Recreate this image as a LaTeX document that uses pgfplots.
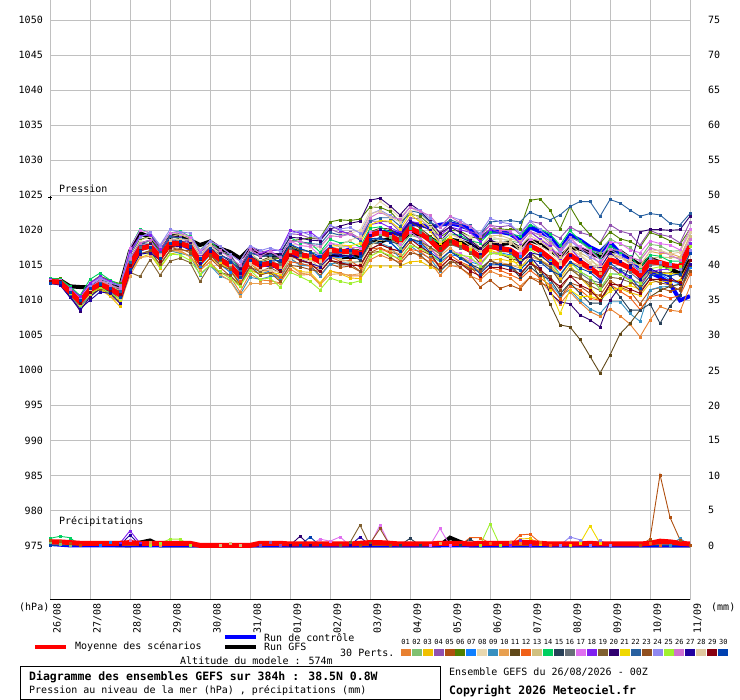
\documentclass[border=0pt]{standalone}
\usepackage{fontspec}
\setmainfont{DejaVu Sans Mono}
\usepackage{pgfplots}
\usepackage{pgfplotstable}
\pgfplotsset{compat=1.18}
\definecolor{gridc}{HTML}{C0C0C0}
\definecolor{c01}{HTML}{E88030}\definecolor{c02}{HTML}{80C070}\definecolor{c03}{HTML}{F0C000}
\definecolor{c04}{HTML}{9050B0}\definecolor{c05}{HTML}{B05010}\definecolor{c06}{HTML}{508000}
\definecolor{c07}{HTML}{1080FF}\definecolor{c08}{HTML}{E8D8B0}\definecolor{c09}{HTML}{3890C0}
\definecolor{c10}{HTML}{E8A050}\definecolor{c11}{HTML}{604818}\definecolor{c12}{HTML}{F06018}
\definecolor{c13}{HTML}{D0C080}\definecolor{c14}{HTML}{00D060}\definecolor{c15}{HTML}{284058}
\definecolor{c16}{HTML}{687078}\definecolor{c17}{HTML}{E070F0}\definecolor{c18}{HTML}{8020F0}
\definecolor{c19}{HTML}{806030}\definecolor{c20}{HTML}{300070}\definecolor{c21}{HTML}{F0D800}
\definecolor{c22}{HTML}{2860A0}\definecolor{c23}{HTML}{905020}\definecolor{c24}{HTML}{9088F0}
\definecolor{c25}{HTML}{A0F030}\definecolor{c26}{HTML}{D070D0}\definecolor{c27}{HTML}{2000A0}
\definecolor{c28}{HTML}{E0C8A0}\definecolor{c29}{HTML}{880010}\definecolor{c30}{HTML}{0040B0}
\newcommand\fa{\fontsize{10bp}{12bp}\selectfont}
\newcommand\fs{\fontsize{7bp}{8bp}\selectfont}
\newcommand\ft{\fontsize{11.5bp}{13bp}\selectfont\bfseries}
% mean pressure (m), mean precipitation (pm), control (c) and GFS (g) deviations, member deviations d01..d30 from the mean
\pgfplotstableset{
create on use/m/.style={create col/set list={1012.7,1012.6,1011.2,1009.8,1011.5,1012.3,1011.7,1010.8,1015.0,1017.4,1017.7,1016.2,1018.1,1018.1,1017.7,1015.5,1017.0,1015.8,1015.0,1013.4,1015.8,1015.0,1015.3,1014.7,1017.0,1016.5,1016.3,1015.5,1017.2,1017.0,1017.0,1016.7,1019.3,1019.7,1019.3,1018.4,1020.3,1019.6,1018.6,1017.2,1018.5,1017.9,1017.2,1016.2,1017.7,1017.4,1017.2,1016.2,1017.8,1017.1,1016.0,1014.7,1016.5,1015.5,1014.6,1013.6,1015.8,1015.3,1014.6,1013.6,1015.5,1015.4,1015.0,1014.8,1017.7}},
create on use/pm/.style={create col/set list={0.5,0.5,0.4,0.3,0.3,0.3,0.3,0.3,0.4,0.3,0.3,0.3,0.3,0.3,0.3,0.0,0.0,0.0,0.0,0.0,0.0,0.3,0.3,0.3,0.2,0.2,0.2,0.2,0.2,0.2,0.2,0.3,0.4,0.4,0.3,0.2,0.2,0.2,0.2,0.3,0.3,0.3,0.2,0.3,0.3,0.3,0.3,0.4,0.4,0.3,0.2,0.2,0.2,0.2,0.3,0.2,0.2,0.2,0.2,0.2,0.3,0.6,0.5,0.3,0.2}},
create on use/c/.style={create col/set list={0.1,0.2,0.0,-0.2,0.1,0.2,0.0,-0.1,-0.3,0.2,0.0,-0.2,0.3,0.0,-0.3,0.2,0.0,0.3,-0.2,0.0,0.4,0.2,-0.3,0.1,-0.5,-0.3,0.0,0.5,-0.4,-0.2,0.3,0.0,0.3,0.0,0.5,1.0,0.6,1.2,1.8,3.6,2.5,2.8,3.0,2.7,2.1,2.4,2.3,2.4,2.7,2.7,3.1,2.5,2.8,3.1,3.0,3.3,2.5,1.4,0.9,0.9,-1.5,-2.1,-2.6,-4.8,-7.1}},
create on use/g/.style={create col/set list={0.2,0.3,0.8,2.1,0.4,0.2,0.4,1.1,2.0,2.2,1.3,1.2,1.0,1.2,0.9,2.4,1.4,1.6,1.9,2.6,1.6,1.9,1.1,1.7,0.5,0.2,-0.3,0.5,-0.5,-0.8,-0.8,-0.5,-0.9,-1.3,-0.5,0.0,-0.6,-0.2,0.3,0.8,0.2,0.5,0.8,1.0,0.5,0.6,1.0,1.2,0.8,1.0,1.2,1.5,0.9,1.9,2.2,2.6,1.2,1.7,1.4,1.4,0.5,0.0,-0.5,-1.0,-2.0}},
create on use/d01/.style={create col/set list={0.2,0.4,0.3,0.6,0.5,0.1,0.1,-0.4,-0.5,-0.8,-0.6,-1.1,-1.0,-1.0,-1.4,-1.2,-1.5,-1.9,-1.6,-2.2,-2.0,-2.1,-2.5,-2.2,-2.5,-2.9,-2.6,-3.2,-3.0,-3.1,-3.5,-3.2,-3.5,-3.2,-3.4,-2.9,-3.0,-3.4,-3.1,-3.6,-3.5,-3.2,-3.7,-3.3,-3.5,-3.8,-4.0,-4.2,-4.5,-4.2,-4.8,-5.2,-5.3,-5.8,-6.2,-5.9,-7.0,-7.5,-8.0,-8.8,-8.3,-6.3,-6.4,-6.4,-5.7}},
create on use/d02/.style={create col/set list={0.0,0.1,0.0,0.3,0.3,0.6,0.4,0.8,0.8,0.5,0.8,0.4,0.5,0.5,0.1,0.2,0.0,-0.3,-0.1,-0.6,-0.5,-0.1,-0.2,0.5,0.5,0.9,0.6,1.2,1.0,0.6,0.7,0.1,0.0,-0.4,-0.3,-0.9,-1.0,-0.7,-1.0,-0.4,-0.5,0.1,0.2,0.9,1.0,1.4,1.3,2.0,2.0,2.2,2.5,2.2,2.5,2.9,2.6,3.2,3.0,2.7,3.0,2.4,2.5,2.4,2.0,2.3,2.0}},
create on use/d03/.style={create col/set list={-0.2,-0.4,-0.5,-0.9,-0.8,-0.7,-1.1,-1.7,-1.0,-1.3,-1.1,-1.6,-1.5,-1.2,-1.4,-0.9,-1.0,-0.6,-0.9,-0.4,-0.5,-1.0,-1.2,-1.8,-2.0,-2.4,-2.3,-3.0,-3.0,-3.2,-3.8,-3.6,-4.4,-4.8,-4.4,-3.5,-4.8,-4.0,-3.8,-3.0,-3.0,-2.6,-2.5,-1.9,-2.0,-1.5,-1.6,-0.9,-1.0,-1.3,-1.0,-1.6,-1.5,-2.2,-2.8,-3.5,-4.0,-3.6,-3.5,-2.9,-3.0,-2.6,-2.4,-1.9,-2.0}},
create on use/d04/.style={create col/set list={0.3,0.2,0.6,0.5,0.8,1.1,1.2,1.3,2.0,1.7,1.9,1.4,1.5,1.5,1.1,1.3,1.0,1.4,1.1,1.6,1.5,1.9,1.8,2.5,2.5,2.9,2.6,3.2,3.0,2.6,2.7,2.1,2.0,1.6,1.9,1.4,1.5,2.0,1.8,2.5,2.5,2.9,2.6,3.2,3.0,3.1,3.5,3.2,3.5,3.9,3.6,4.2,4.0,4.2,4.7,4.6,5.0,4.6,4.9,4.3,4.5,4.0,4.1,3.4,3.5}},
create on use/d05/.style={create col/set list={-0.1,-0.2,-0.4,-0.3,-0.5,-0.7,-0.6,-1.1,-1.0,-0.7,-0.9,-0.4,-0.5,-0.9,-0.6,-1.1,-1.0,-1.1,-1.5,-1.2,-1.5,-1.2,-1.4,-0.9,-1.0,-1.4,-1.3,-1.9,-2.0,-2.3,-2.1,-2.6,-2.5,-2.2,-2.4,-1.9,-2.0,-2.4,-2.1,-2.6,-2.5,-3.2,-3.5,-4.3,-4.8,-5.7,-5.0,-4.6,-4.5,-4.6,-4.1,-4.4,-4.0,-3.5,-3.6,-2.9,-3.0,-3.4,-3.3,-4.1,-4.0,-3.6,-3.7,-3.1,-3.0}},
create on use/d06/.style={create col/set list={0.4,0.5,0.8,0.7,1.0,1.2,1.1,1.6,1.5,1.3,1.4,0.9,1.0,0.7,0.9,0.4,0.5,0.4,0.1,0.2,0.0,0.5,0.6,1.3,1.5,2.2,2.6,3.4,4.0,4.5,4.4,4.9,4.0,3.6,3.4,2.8,2.0,2.4,2.2,1.8,1.5,2.0,1.9,2.6,2.5,2.8,2.9,4.0,6.5,7.4,6.9,5.5,6.9,5.5,4.8,4.5,4.0,3.5,3.8,4.0,4.2,3.8,3.5,3.2,2.5}},
create on use/d07/.style={create col/set list={0.0,-0.1,-0.3,-0.2,-0.5,-0.3,-0.6,-0.4,-0.5,-0.4,-0.1,-0.2,0.0,-0.3,-0.1,-0.6,-0.5,-0.6,-1.0,-0.7,-1.0,-1.3,-1.1,-1.6,-1.5,-1.2,-1.4,-0.9,-1.0,-0.9,-0.6,-0.8,-0.5,-1.0,-0.9,-1.4,-1.5,-1.6,-2.0,-1.7,-2.0,-1.6,-1.7,-1.1,-1.0,-0.6,-0.7,0.1,0.0,-0.4,-0.3,-1.0,-1.0,-1.4,-1.3,-2.0,-2.0,-1.6,-1.7,-1.1,-1.0,-1.6,-2.1,-2.5,-3.0}},
create on use/d08/.style={create col/set list={0.1,0.2,0.1,0.4,0.3,0.6,0.5,0.9,1.0,1.1,1.4,1.2,1.5,1.3,1.4,0.9,1.0,0.9,0.6,0.8,0.5,0.6,0.9,0.7,1.0,1.4,1.3,2.0,2.0,2.5,2.6,3.3,3.5,4.4,3.8,3.4,3.0,2.8,2.4,2.1,2.0,1.7,1.9,1.4,1.5,1.3,1.4,0.9,1.0,0.7,0.9,0.4,0.5,1.0,0.9,1.4,1.5,1.8,1.6,2.1,2.0,1.6,1.5,1.0,1.0}},
create on use/d09/.style={create col/set list={-0.3,-0.4,-0.7,-0.6,-1.0,-0.7,-0.9,-0.4,-0.5,-0.8,-0.6,-1.1,-1.0,-1.4,-1.3,-1.9,-2.0,-2.3,-2.1,-2.6,-2.5,-2.0,-1.9,-1.2,-1.0,-1.5,-1.4,-2.1,-2.0,-1.6,-1.7,-1.1,-1.0,-1.5,-1.7,-2.4,-2.5,-2.8,-2.6,-3.1,-3.0,-2.6,-2.7,-2.1,-2.0,-2.3,-2.1,-2.6,-2.5,-2.8,-3.5,-4.0,-5.0,-5.5,-5.8,-5.5,-6.0,-5.5,-6.5,-6.6,-4.0,-3.5,-3.0,-2.5,-2.0}},
create on use/d10/.style={create col/set list={0.2,0.1,-0.2,-0.1,-0.5,-0.6,-1.1,-1.2,-1.5,-1.3,-1.4,-0.9,-1.0,-1.1,-1.5,-1.2,-1.5,-2.1,-2.2,-2.8,-3.4,-2.6,-2.9,-2.3,-2.0,-2.6,-2.6,-3.3,-3.5,-3.2,-3.4,-2.9,-3.0,-2.7,-2.1,-1.8,-1.5,-1.2,-1.4,-0.9,-1.0,-1.6,-1.7,-2.3,-2.5,-2.0,-2.1,-1.6,-1.5,-1.4,-1.0,-1.3,-1.0,-0.5,-0.4,0.3,0.5,0.9,0.8,1.4,1.5,1.3,1.7,1.4,1.5}},
create on use/d11/.style={create col/set list={-0.2,-0.1,-0.3,0.1,0.0,0.3,0.1,0.5,0.5,0.2,0.4,-0.1,0.0,-0.1,-0.4,-0.2,-0.5,-0.1,-0.2,0.4,0.5,0.6,0.9,0.7,1.0,0.6,0.7,0.1,0.0,0.3,0.1,0.6,0.5,0.6,0.9,0.7,1.0,0.7,0.6,0.2,0.0,-0.4,-0.3,-0.9,-1.0,-0.8,-1.2,-0.6,-1.5,-4.2,-6.5,-8.2,-10.3,-11.1,-12.6,-14.0,-13.6,-10.1,-7.9,-5.0,-5.0,-4.0,-3.0,-2.5,-2.7}},
create on use/d12/.style={create col/set list={0.1,0.3,0.2,0.5,0.5,0.3,0.4,-0.1,0.0,-0.2,-0.1,-0.6,-0.5,-0.4,-0.1,-0.2,0.0,-0.3,-0.1,-0.6,-0.5,-0.8,-1.0,-1.4,-1.5,-1.2,-1.4,-0.9,-1.0,-1.4,-1.3,-2.0,-2.0,-2.2,-2.6,-2.7,-3.0,-2.6,-2.7,-2.1,-2.0,-2.4,-2.3,-3.0,-3.0,-3.1,-3.5,-3.2,-3.5,-3.9,-3.8,-4.5,-4.5,-4.0,-4.3,-3.6,-3.5,-4.0,-4.2,-4.9,-5.0,-4.6,-4.7,-4.1,-4.0}},
create on use/d13/.style={create col/set list={0.0,0.1,0.0,0.2,0.3,0.5,0.3,0.6,0.5,0.6,0.9,0.7,1.0,1.3,1.1,1.6,1.5,1.2,1.4,0.9,1.0,0.6,0.7,0.1,0.0,-0.4,-0.3,-1.0,-1.0,-1.1,-1.5,-1.2,-1.5,-1.0,-0.9,-0.2,0.0,0.4,0.3,1.0,1.0,1.1,1.5,1.2,1.5,1.9,1.6,2.2,2.0,1.7,1.9,1.4,1.5,1.3,1.4,0.9,1.0,0.9,0.6,0.8,0.5,0.8,1.1,1.3,1.5}},
create on use/d14/.style={create col/set list={0.5,0.4,0.8,0.9,1.5,1.6,1.2,1.4,2.5,2.8,1.9,1.6,1.5,1.8,1.4,1.7,1.5,1.2,1.4,0.9,1.0,1.4,1.3,2.0,2.0,1.7,1.9,1.4,1.5,1.2,1.4,0.9,1.0,0.8,0.4,0.3,0.0,0.4,0.3,1.0,1.0,1.4,1.3,2.0,2.0,2.4,2.3,3.0,3.0,3.1,3.5,3.2,3.5,3.0,2.8,2.3,2.0,1.6,1.7,1.1,1.0,0.9,0.6,0.8,0.5}},
create on use/d15/.style={create col/set list={-0.1,0.1,0.0,0.4,0.5,0.6,0.9,0.7,1.0,0.8,0.9,0.4,0.5,0.6,0.9,0.7,1.0,1.1,1.5,1.2,1.5,1.2,1.1,0.6,0.5,0.4,0.1,0.2,0.0,-0.4,-0.3,-1.0,-1.0,-0.7,-0.9,-0.4,-0.5,-0.8,-1.0,-1.4,-1.5,-1.6,-2.0,-1.7,-2.0,-2.4,-2.3,-2.9,-3.0,-3.5,-3.0,-3.8,-4.0,-4.5,-5.0,-4.0,-3.5,-4.8,-6.0,-5.0,-6.0,-8.7,-5.8,-4.0,-2.5}},
create on use/d16/.style={create col/set list={0.0,0.1,-0.1,-0.2,-0.3,-0.1,-0.3,0.1,0.0,0.2,0.1,0.5,0.5,0.1,0.2,-0.4,-0.5,-0.3,-0.4,0.1,0.0,0.3,0.1,0.5,0.5,0.0,0.2,-0.4,-0.5,-0.4,-0.1,-0.2,0.0,0.3,0.1,0.5,0.5,0.1,0.2,-0.4,-0.5,-0.4,-0.1,-0.2,0.0,-0.4,-0.3,-1.0,-1.0,-1.4,-1.3,-2.0,-2.0,-1.6,-1.7,-1.1,-1.0,-0.9,-0.6,-0.8,-0.5,-0.2,-0.4,0.1,0.0}},
create on use/d17/.style={create col/set list={0.2,0.3,0.5,0.6,0.8,1.0,0.9,1.3,2.5,2.6,2.0,1.6,1.5,1.7,1.3,1.6,1.5,1.9,1.6,2.2,2.0,1.7,1.9,1.4,1.5,1.3,1.4,0.9,1.0,0.9,0.6,0.8,0.5,0.1,0.2,-0.4,-0.5,-0.8,-1.0,-1.4,-1.5,-1.2,-1.4,-0.9,-1.0,-0.4,-0.1,0.6,1.0,1.4,1.3,2.0,2.0,2.2,2.5,2.2,2.5,2.9,2.6,3.2,3.0,2.7,2.9,2.4,2.5}},
create on use/d18/.style={create col/set list={0.3,0.2,0.5,0.8,1.0,1.1,1.0,1.2,2.0,1.8,1.6,1.1,1.0,0.9,0.6,0.8,0.5,0.6,0.9,0.7,1.0,1.6,1.9,2.4,3.0,3.1,3.5,3.2,3.5,3.0,2.4,2.0,1.5,1.4,1.1,1.3,1.0,1.4,1.3,2.0,2.0,2.2,2.5,2.2,2.5,2.3,2.4,1.9,2.0,1.6,1.7,1.1,1.0,0.4,0.1,-0.6,-1.0,-1.1,-1.5,-1.2,-1.5,-1.0,-0.6,0.0,0.5}},
create on use/d19/.style={create col/set list={-0.3,-0.2,-0.4,-0.5,-0.5,-0.8,-0.6,-1.0,-1.0,-4.0,-1.9,-2.6,-2.5,-2.1,-2.3,-2.8,-2.0,-1.8,-1.4,-1.3,-1.0,-0.9,-0.6,-0.8,-0.5,-0.9,-1.0,-1.4,-1.5,-1.6,-2.0,-1.7,-2.0,-1.7,-1.9,-1.4,-1.5,-1.2,-1.0,-0.6,-0.5,-0.2,-0.4,0.1,0.0,-0.4,-0.3,-1.0,-1.0,-1.4,-1.3,-2.0,-2.0,-2.1,-2.5,-2.2,-2.5,-2.2,-2.0,-1.6,-1.5,-1.4,-1.1,-1.2,-1.0}},
create on use/d20/.style={create col/set list={0.0,-0.2,-0.6,-1.3,-1.0,-0.6,-0.4,0.2,0.5,0.7,0.3,0.6,0.5,0.3,0.6,0.4,0.5,0.8,0.6,1.1,1.0,1.4,1.3,2.0,2.0,2.4,2.3,3.0,3.0,3.6,4.0,4.6,5.0,4.9,4.2,3.8,3.5,3.2,2.7,2.4,2.0,1.8,1.4,1.3,1.0,0.5,0.0,-0.5,-1.5,-2.5,-5.0,-4.9,-7.0,-7.6,-7.4,-7.4,-5.8,-3.3,0.4,6.2,4.6,4.7,5.0,5.3,4.3}},
create on use/d21/.style={create col/set list={-0.2,-0.3,-0.1,-0.4,-0.5,-0.6,-1.0,-0.8,-1.0,-0.7,-0.9,-0.4,-0.5,-0.4,-0.1,-0.2,0.0,-0.5,-0.6,-1.3,-1.5,-1.2,-1.4,-0.9,-1.0,-0.5,-0.4,0.3,0.5,0.9,0.8,1.4,1.5,1.7,2.0,1.8,2.0,1.6,1.3,0.9,0.5,0.2,0.1,-0.4,-0.5,-0.8,-1.0,-1.5,-2.0,-3.0,-4.5,-6.6,-5.0,-5.0,-4.0,-3.5,-4.5,-3.5,-2.5,-2.0,-2.0,-1.5,-1.2,-1.0,-1.0}},
create on use/d22/.style={create col/set list={-0.2,-0.1,-0.3,0.1,0.0,0.3,0.1,0.5,0.5,0.6,0.9,0.7,1.0,0.8,0.9,0.4,0.5,0.6,0.9,0.7,1.0,1.3,1.1,1.6,1.5,1.9,1.8,2.5,2.5,2.3,2.4,1.9,2.0,2.1,2.5,2.2,2.5,2.9,2.6,3.2,3.0,3.1,3.5,3.2,3.5,3.9,4.2,5.0,4.8,4.9,5.5,7.5,6.9,8.6,9.5,8.4,8.6,8.6,8.3,8.4,6.9,6.8,6.0,6.0,4.7}},
create on use/d23/.style={create col/set list={0.0,-0.1,0.1,-0.2,-0.3,-0.5,-0.3,-0.6,-0.5,-0.8,-0.6,-1.1,-1.0,-0.7,-0.9,-0.4,-0.5,-0.8,-0.6,-1.1,-1.0,-1.4,-1.3,-2.0,-2.0,-1.7,-1.9,-1.4,-1.5,-1.9,-1.8,-2.5,-2.5,-2.7,-3.1,-3.2,-3.5,-3.1,-3.4,-2.9,-3.0,-2.6,-2.7,-2.1,-2.0,-2.3,-2.1,-2.6,-2.5,-2.9,-2.6,-3.2,-3.0,-2.4,-2.1,-1.4,-1.0,-1.6,-1.7,-2.3,-2.5,-2.9,-2.8,-3.4,-3.5}},
create on use/d24/.style={create col/set list={0.1,0.2,0.4,0.3,0.5,0.9,0.8,1.3,1.5,1.6,2.0,1.7,2.0,1.7,1.9,1.4,1.5,1.9,1.6,2.2,2.0,2.1,2.2,2.3,2.5,3.4,3.0,3.4,3.5,3.2,3.4,2.9,3.0,3.2,2.8,3.1,3.0,3.3,3.1,3.3,3.5,3.6,3.3,3.4,4.0,3.8,3.7,3.4,3.5,3.0,2.8,2.3,2.0,1.9,1.6,1.8,1.5,1.1,1.0,0.6,0.5,0.1,0.2,-0.4,-0.5}},
create on use/d25/.style={create col/set list={-0.1,-0.3,-0.2,-0.5,-0.5,-0.4,-0.7,-0.6,-0.5,-0.8,-1.0,-1.4,-1.5,-1.6,-2.0,-1.7,-2.0,-1.7,-1.9,-1.4,-1.5,-2.0,-2.1,-2.8,-3.0,-3.1,-3.6,-4.0,-4.0,-4.3,-4.6,-3.9,-3.0,-2.7,-2.9,-2.4,-2.5,-2.1,-2.0,-1.6,-1.5,-1.4,-1.0,-1.3,-1.0,-0.7,-0.9,-0.4,-0.5,-0.8,-0.6,-1.1,-1.0,-1.4,-1.3,-2.0,-2.0,-1.6,-1.7,-1.1,-1.0,-0.6,-0.5,0.1,0.0}},
create on use/d26/.style={create col/set list={0.2,0.1,0.3,0.2,0.3,0.6,0.5,0.9,1.0,0.8,0.9,0.4,0.5,0.6,0.9,0.7,1.0,1.3,1.1,1.6,1.5,1.3,1.7,1.4,1.5,1.9,1.6,2.2,2.0,2.1,2.5,2.2,2.5,2.9,2.6,3.2,3.0,3.1,3.5,3.2,3.5,3.2,3.4,2.9,3.0,2.6,2.7,2.1,2.0,2.3,2.1,2.6,2.5,2.0,2.1,1.6,1.5,1.8,1.6,2.1,2.0,1.6,1.5,1.0,1.0}},
create on use/d27/.style={create col/set list={-0.3,-0.4,-0.8,-1.0,-1.5,-1.1,-0.7,-1.2,-1.0,-0.8,-0.9,-0.4,-0.5,-0.4,-0.1,-0.2,0.0,0.3,0.1,0.5,0.5,0.1,0.2,-0.4,-0.5,-0.6,-1.0,-0.7,-1.0,-0.6,-0.7,0.1,0.0,0.4,0.3,1.0,1.0,1.1,1.5,1.2,1.5,1.1,1.2,0.6,0.5,0.0,-0.1,-0.8,-1.0,-0.6,-0.7,0.1,0.0,0.4,0.3,1.0,1.0,0.3,0.1,-0.6,-1.0,-1.5,-1.7,-2.4,-2.5}},
create on use/d28/.style={create col/set list={0.1,0.2,0.0,0.1,0.0,-0.2,-0.1,-0.5,-0.5,-0.2,0.1,0.3,0.5,0.6,0.9,0.7,1.0,0.5,0.2,-0.3,-0.5,-0.6,-1.0,-0.7,-1.0,-0.6,-0.7,0.1,0.0,0.9,1.6,2.4,3.0,3.1,2.6,2.8,2.5,2.0,1.9,1.3,1.0,0.9,0.6,0.8,0.5,0.9,1.0,1.4,1.5,1.3,1.4,0.9,1.0,0.9,0.6,0.8,0.5,0.8,1.1,1.3,1.5,1.8,1.6,2.1,2.0}},
create on use/d29/.style={create col/set list={0.0,0.1,-0.1,-0.2,-0.3,-0.1,-0.3,0.1,0.0,-0.2,-0.1,-0.6,-0.5,-0.1,0.0,0.4,0.5,0.3,0.4,-0.1,0.0,-0.3,-0.1,-0.6,-0.5,-0.8,-1.0,-1.4,-1.5,-1.6,-2.0,-1.7,-2.0,-1.7,-1.9,-1.4,-1.5,-1.9,-1.8,-2.5,-2.5,-2.6,-3.0,-2.7,-3.0,-2.7,-2.9,-2.4,-2.5,-2.6,-3.0,-2.7,-3.0,-3.3,-3.1,-3.6,-3.5,-3.1,-3.0,-2.6,-2.5,-2.4,-2.1,-2.2,-2.0}},
create on use/d30/.style={create col/set list={-0.2,0.0,-0.1,0.2,0.3,0.0,0.1,-0.4,-0.5,-0.4,-0.1,-0.2,0.0,0.3,0.1,0.5,0.5,0.3,0.4,-0.1,0.0,0.4,0.3,1.0,1.0,0.9,0.6,0.8,0.5,0.1,0.2,-0.4,-0.5,-0.8,-1.0,-1.4,-1.5,-1.3,-1.7,-1.4,-1.5,-1.9,-2.0,-2.4,-2.5,-2.3,-2.4,-1.9,-2.0,-1.6,-1.7,-1.1,-1.0,-0.9,-0.6,-0.8,-0.5,-1.0,-1.2,-1.9,-2.0,-1.6,-1.5,-1.0,-1.0}},
}
\pgfplotsset{mem/.style={color=#1, line width=0.9bp, mark=square*, mark size=1bp, mark options={line width=0.3bp}}}
\begin{document}
\pgfplotstablenew[columns={m,pm,c,g,d01,d02,d03,d04,d05,d06,d07,d08,d09,d10,d11,d12,d13,d14,d15,d16,d17,d18,d19,d20,d21,d22,d23,d24,d25,d26,d27,d28,d29,d30}]{65}\data
\begin{tikzpicture}
\begin{axis}[at={(50bp,100bp)}, anchor=south west, scale only axis,
  width=640bp, height=600bp,
  xmin=0, xmax=64, ymin=967.2, ymax=1052.9,
  xtick={0,4,...,64}, xticklabels={},
  ytick={975,980,...,1050},
  yticklabels={975,980,985,990,995,1000,1005,1010,1015,1020,1025,1030,1035,1040,1045,1050},
  yticklabel style={font=\fa, anchor=east, inner sep=0pt, xshift=-7bp},
  grid=major, major grid style={draw=gridc, line width=1bp},
  axis line style={draw=none}, tick style={draw=none}]
% GFS run
\addplot[black, line width=4bp] table[x expr=\coordindex, y expr=\thisrow{m}+\thisrow{g}] {\data};
\addplot[black, line width=4bp] coordinates {(0,975.3)(8,975)(9,975.4)(10,975.7)(11,975)(39,975)(40,976.1)(41,975.5)(42,975)(64,975)};
% control run
\addplot[blue, line width=4bp] table[x expr=\coordindex, y expr=\thisrow{m}+\thisrow{c}] {\data};
\addplot[blue, line width=4bp] coordinates {(0,975.2)(2,975)(64,975)};
% members
\pgfplotsinvokeforeach{01,02,03,04,05,06,07,08,09,10,11,12,13,14,15,16,17,18,19,20,21,22,23,24,25,26,27,28,29,30}{
  \addplot[mem=c#1] table[x expr=\coordindex, y expr=\thisrow{m}+\thisrow{d#1}] {\data};
}
% precipitation (975 + mm)
\addplot[mem=c01] coordinates {(0,975)(45,975)(46,975.5)(47,975.3)(48,975)(64,975)};
\addplot[mem=c02] coordinates {(0,975.3)(1,975.2)(2,975)(64,975)};
\addplot[mem=c03] coordinates {(0,975)(46,975)(47,975.9)(48,976)(49,975.2)(50,975)(64,975)};
\addplot[mem=c04] coordinates {(0,975)(21,975)(22,975.4)(23,975)(64,975)};
\addplot[mem=c07] coordinates {(0,975)(5,975)(6,975.4)(7,975)(64,975)};
\addplot[mem=c09] coordinates {(0,975)(62,975)(63,976)(64,975)};
\addplot[mem=c10] coordinates {(0,975)(9,975)(10,975.5)(11,975)(38,975)(39,975.3)(40,975)(64,975)};
\addplot[mem=c12] coordinates {(0,975)(41,975)(42,976.1)(43,976.1)(44,975.3)(45,975)(46,975)(47,976.5)(48,976.6)(49,975.4)(50,975)(59,975)(60,975.3)(61,975)(64,975)};
\addplot[mem=c13] coordinates {(0,975)(17,975)(18,975.3)(19,975)(64,975)};
\addplot[mem=c14] coordinates {(0,976)(1,976.3)(2,976.1)(3,975)(64,975)};
\addplot[mem=c15] coordinates {(0,975)(35,975)(36,976)(37,975)(41,975)(42,975.9)(43,975)(64,975)};
\addplot[mem=c17] coordinates {(0,975)(26,975)(27,975.9)(28,975.6)(29,976.2)(30,975)(32,975)(33,977.9)(34,975)(38,975)(39,977.4)(40,975)(64,975)};
\addplot[mem=c18] coordinates {(0,975)(7,975.3)(8,977.1)(9,975.3)(10,975)(46,975)(47,975.8)(48,975)(54,975)(55,975.6)(56,975)(64,975)};
\addplot[mem=c19] coordinates {(0,975)(29,975)(30,975.4)(31,977.9)(32,975)(64,975)};
\addplot[mem=c20] coordinates {(0,975)(24,975)(25,976.3)(26,975)(64,975)};
\addplot[mem=c21] coordinates {(0,975)(52,975)(53,975.3)(54,977.8)(55,975.3)(56,975)(64,975)};
\addplot[mem=c23] coordinates {(0,975)(31,975)(32,975.3)(33,977.4)(34,975)(64,975)};
\addplot[mem=c24] coordinates {(0,975)(51,975)(52,976.2)(53,975.8)(54,975)(55,975.7)(56,975)(64,975)};
\addplot[mem=c25] coordinates {(0,975)(10,975)(11,975.3)(12,975.9)(13,975.9)(14,975)(43,975)(44,978.1)(45,975)(64,975)};
\addplot[mem=c26] coordinates {(0,975)(7,975)(8,975.8)(9,975)(64,975)};
\addplot[mem=c27] coordinates {(0,975)(7,975)(8,976.5)(9,975)(30,975)(31,976.2)(32,975)(64,975)};
\addplot[mem=c30] coordinates {(0,975)(25,975)(26,976.2)(27,975)(64,975)};
\addplot[mem=c05] coordinates {(0,975.8)(1,975.6)(2,975.3)(3,975)(59,975)(60,975.9)(61,985.1)(62,979)(63,975.8)(64,975)};
% ensemble mean
\addplot[red, line width=5bp] table[x expr=\coordindex, y=m] {\data};
\addplot[red, line width=5bp] table[x expr=\coordindex, y expr=975+\thisrow{pm}] {\data};
\end{axis}
\begin{scope}[x=1bp, y=1bp, font=\fa]
\draw[black, line width=1bp] (50,100) -- (690,100);
\draw[black, line width=0.8bp] (48,502.4) -- (52,502.4) (50,500.4) -- (50,504.4);
\foreach \v in {0,5,...,75} \node[anchor=west, inner sep=0pt] at (708, {154.6+7.0012*\v}) {\v};
\node[anchor=west, inner sep=0pt] at (59,511) {Pression};
\node[anchor=west, inner sep=0pt] at (59,178) {Précipitations};
\node[anchor=west, inner sep=0pt] at (19,93) {(hPa)};
\node[anchor=west, inner sep=0pt] at (711,93) {(mm)};
\node[rotate=90, anchor=east, inner sep=0pt] at (57.5,97) {26/08};
\node[rotate=90, anchor=east, inner sep=0pt] at (97.5,97) {27/08};
\node[rotate=90, anchor=east, inner sep=0pt] at (137.5,97) {28/08};
\node[rotate=90, anchor=east, inner sep=0pt] at (177.5,97) {29/08};
\node[rotate=90, anchor=east, inner sep=0pt] at (217.5,97) {30/08};
\node[rotate=90, anchor=east, inner sep=0pt] at (257.5,97) {31/08};
\node[rotate=90, anchor=east, inner sep=0pt] at (297.5,97) {01/09};
\node[rotate=90, anchor=east, inner sep=0pt] at (337.5,97) {02/09};
\node[rotate=90, anchor=east, inner sep=0pt] at (377.5,97) {03/09};
\node[rotate=90, anchor=east, inner sep=0pt] at (417.5,97) {04/09};
\node[rotate=90, anchor=east, inner sep=0pt] at (457.5,97) {05/09};
\node[rotate=90, anchor=east, inner sep=0pt] at (497.5,97) {06/09};
\node[rotate=90, anchor=east, inner sep=0pt] at (537.5,97) {07/09};
\node[rotate=90, anchor=east, inner sep=0pt] at (577.5,97) {08/09};
\node[rotate=90, anchor=east, inner sep=0pt] at (617.5,97) {09/09};
\node[rotate=90, anchor=east, inner sep=0pt] at (657.5,97) {10/09};
\node[rotate=90, anchor=east, inner sep=0pt] at (697.5,97) {11/09};
% legend
\draw[red, line width=4bp] (35,53) -- (66,53);
\node[anchor=west, inner sep=0pt] at (75,53) {Moyenne des scénarios};
\draw[blue, line width=4bp] (225,63) -- (256,63);
\node[anchor=west, inner sep=0pt] at (264,62.5) {Run de contrôle};
\draw[black, line width=4bp] (225,53) -- (256,53);
\node[anchor=west, inner sep=0pt] at (264,53) {Run GFS};
\node[anchor=west, inner sep=0pt] at (180,39.5) {Altitude du modele : 574m};
\node[anchor=west, inner sep=0pt] at (340,47.5) {30 Perts.};
\foreach \k/\n in {1/01,2/02,3/03,4/04,5/05,6/06,7/07,8/08,9/09,10/10,11/11,12/12,13/13,14/14,15/15,16/16,17/17,18/18,19/19,20/20,21/21,22/22,23/23,24/24,25/25,26/26,27/27,28/28,29/29,30/30}{
  \fill[c\n] ({400.7+(\k-1)*10.95},44) rectangle ++(10,7);
  \node[font=\fs, inner sep=0pt] at ({405.7+(\k-1)*10.95},58) {\n};
}
\draw[black, line width=1bp] (20.5,0.5) rectangle (440,33);
\node[anchor=base west, inner sep=0pt, font=\ft] at (29,19.3) {Diagramme des ensembles GEFS sur 384h : 38.5N 0.8W};
\node[anchor=base west, inner sep=0pt] at (29,6) {Pression au niveau de la mer (hPa) , précipitations (mm)};
\node[anchor=base west, inner sep=0pt] at (449,24) {Ensemble GEFS du 26/08/2026 - 00Z};
\node[anchor=base west, inner sep=0pt, font=\ft] at (449,5.5) {Copyright 2026 Meteociel.fr};
\pgfresetboundingbox
\path (0,0) rectangle (740,700);
\end{scope}
\end{tikzpicture}
\end{document}
